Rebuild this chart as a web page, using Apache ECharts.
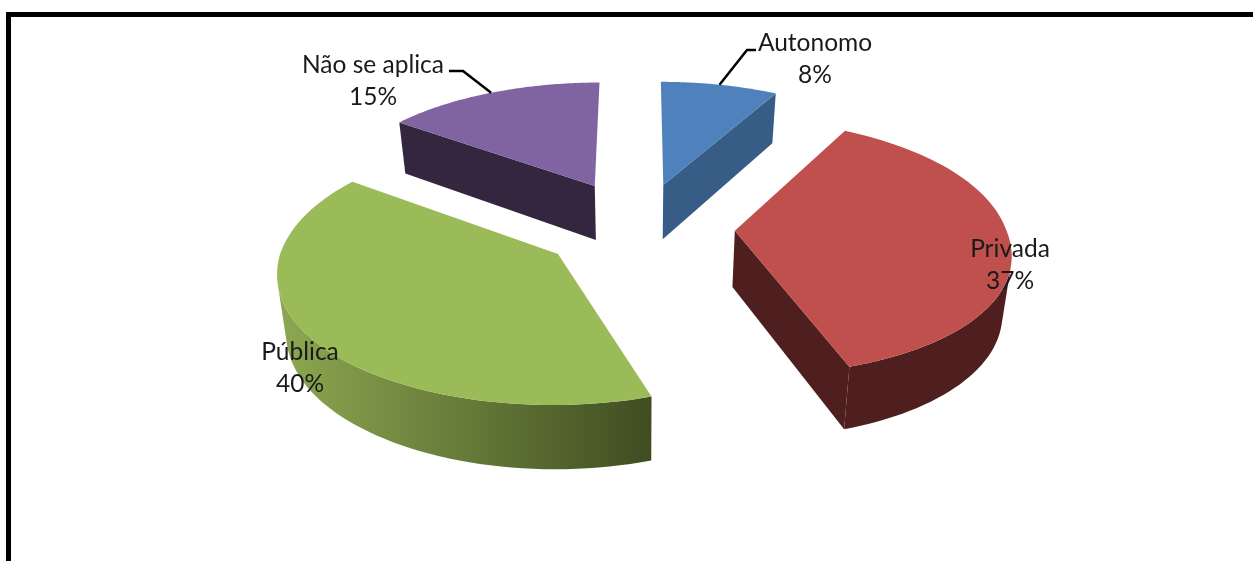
<!DOCTYPE html>
<html>
<head>
<meta charset="utf-8">
<style>
  html, body { margin:0; padding:0; background:#fff; }
  #chart { width:1253px; height:561px; }
</style>
<script src="https://cdn.jsdelivr.net/npm/echarts@6/dist/echarts.min.js"></script>
</head>
<body>
<div id="chart"></div>
<script>
// ===== Data =====
const categories = ['Autonomo', 'Privada', 'Pública', 'Não se aplica'];
const values     = [8, 37, 40, 15];

// ===== Styles =====
const topColors  = ['#4F81BD', '#C0504D', '#9BBB59', '#8064A2'];
const wallColors = [
  '#375C85',
  '#4E1F1E',
  { type:'linear', x:0, y:0, x2:1, y2:0, colorStops:[{offset:0, color:'#8DA851'}, {offset:1, color:'#3F4D21'}] },
  '#352640'
];
const explode  = [0.35, 0.34, 0.354, 0.372];
const labelPos = [[815, 43], [1010, 249], [300, 352], [373, 65]]; // first line centre
const leaders  = [[[747, 50], [756, 50]], null, null, [[463, 71], [449, 71]]]; // elbow + end

// ===== Perspective of the pie plane (x right, y far, unit = radius) =====
const CX = 640, HORIZON = -800, U0 = 0.000974, G = 0.0001213, KAPPA = 3.68;
const RADIUS = 0.98, STEPS = 72, SIDE_SQUASH = 0.01, NEAR_SHEAR = 0.02;
const DEPTH_A = 8.46, DEPTH_B = 0.0463;
const MIN_WALL = 1000; // edge-on walls are skipped

const total = values.reduce((a, b) => a + b, 0);
const rad = v => v / total * Math.PI * 2;
const starts = values.map((v, i) => values.slice(0, i).reduce((a, b) => a + b, 0));

function project(x, y){
  const yp = 1 / (U0 + G * y);
  return { top:[CX + x * yp / KAPPA, HORIZON + yp],
           low:[CX + 0.975 * x * yp / KAPPA, HORIZON + yp + DEPTH_A + DEPTH_B * yp] };
}
function rimPoint(ax, ay, t){
  const s = Math.sin(t), c = Math.cos(t);
  const shear = c < 0 ? -c * NEAR_SHEAR : 0;
  return project(ax + RADIUS * s * (1 - SIDE_SQUASH * Math.pow(s, 8)) + shear, ay + RADIUS * c);
}
function sliceGeom(i){
  const a0 = rad(starts[i]), a1 = rad(starts[i] + values[i]), m = (a0 + a1) / 2;
  const ax = explode[i] * Math.sin(m), ay = explode[i] * Math.cos(m);
  const rim = [];
  for (let k = 0; k <= STEPS; k++){
    rim.push(rimPoint(ax, ay, a0 + (a1 - a0) * k / STEPS));
  }
  return { apex:project(ax, ay), rim, mid:rimPoint(ax, ay, m) };
}
// negative signed area = faces the viewer
function area(pts){
  let s = 0;
  pts.forEach((p, i) => { const q = pts[(i + 1) % pts.length]; s += p[0] * q[1] - q[0] * p[1]; });
  return s;
}
function quad(a, b){ return [a.top, b.top, b.low, a.low]; }

function renderSlice(params, api){
  const i = params.dataIndex;
  const g = sliceGeom(i);
  const children = [];
  const wall = pts => children.push({ type:'polygon', shape:{points:pts}, style:{fill:wallColors[i]} });

  const first = g.rim[0], last = g.rim[g.rim.length - 1];
  [quad(g.apex, first), quad(last, g.apex)].forEach(q => { if (area(q) < -MIN_WALL) wall(q); });

  // outer wall: only the segments that face the viewer
  const front = [];
  for (let k = 0; k < g.rim.length - 1; k++){
    if (area(quad(g.rim[k], g.rim[k + 1])) < 0) {
      if (!front.length) front.push(g.rim[k]);
      front.push(g.rim[k + 1]);
    }
  }
  if (front.length) wall(front.map(p => p.top).concat(front.map(p => p.low).reverse()));

  const face = [g.apex.top].concat(g.rim.map(p => p.top));
  children.push({ type:'polygon', shape:{points:face}, style:{fill:topColors[i]} });
  return { type:'group', children };
}

function renderLabel(params, api){
  const i = params.dataIndex;
  const [x, y] = labelPos[i];
  const font = '24.5px Lato, "Noto Sans", sans-serif';
  const children = [];
  if (leaders[i]) {
    const start = sliceGeom(i).mid.top;
    children.push({ type:'polyline', shape:{points:[start].concat(leaders[i])},
      style:{stroke:'#000', lineWidth:2.5, fill:null} });
  }
  [categories[i], api.value(0) + '%'].forEach((t, n) => {
    children.push({ type:'text', style:{ text:t, x:x, y:y + n * 32, fill:'#1a1a1a', font:font,
      textAlign:'center', textVerticalAlign:'middle' } });
  });
  return { type:'group', children };
}

const chart = echarts.init(document.getElementById('chart'), null, { renderer:'canvas' });
chart.setOption({
  animation:false,
  backgroundColor:'#fff',
  graphic:[
    { type:'rect', shape:{x:6, y:12, width:1247, height:5}, style:{fill:'#000'} },
    { type:'rect', shape:{x:6, y:12, width:5, height:549}, style:{fill:'#000'} }
  ],
  series:[
    { type:'custom', coordinateSystem:'none', renderItem:renderSlice, data:values.map(v => [v]), z:2 },
    { type:'custom', coordinateSystem:'none', renderItem:renderLabel, data:values.map(v => [v]), z:3 }
  ]
});
</script>
</body>
</html>
